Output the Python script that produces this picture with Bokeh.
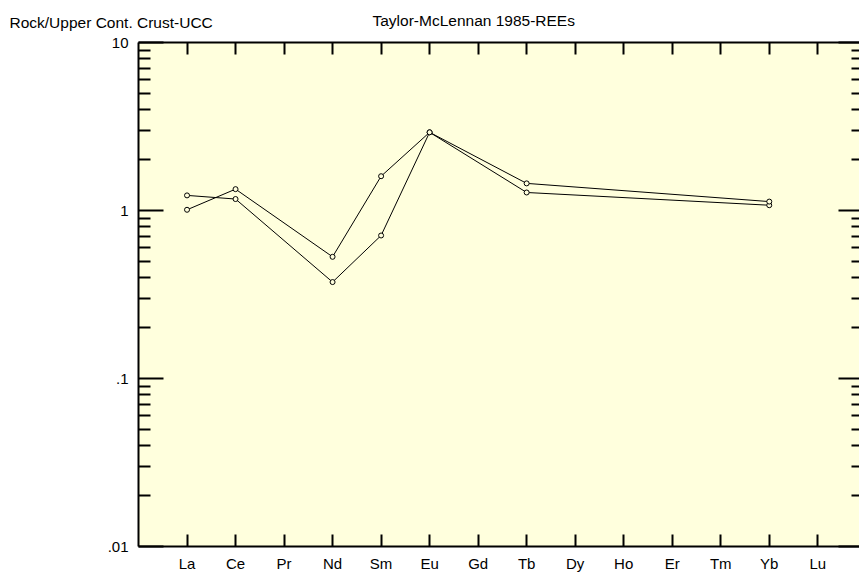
from bokeh.plotting import figure
from bokeh.models import Range1d, FixedTicker, LinearAxis, LogAxis, Label, ColumnDataSource
from bokeh.embed import file_html
from bokeh.resources import INLINE

# ---- data ----
elements = ["La", "Ce", "Pr", "Nd", "Sm", "Eu", "Gd", "Tb", "Dy", "Ho", "Er", "Tm", "Yb", "Lu"]
sample_a = [1.23, 1.17, None, 0.375, 0.71, 2.92, None, 1.28, None, None, None, None, 1.075, None]
sample_b = [1.01, 1.34, None, 0.53, 1.60, 2.92, None, 1.45, None, None, None, None, 1.13, None]
y_ticks = [0.01, 0.1, 1, 10]
y_tick_labels = [".01", ".1", "1", "10"]
y_minor = [m * d for d in (0.01, 0.1, 1) for m in range(2, 10)]
left_title = "Rock/Upper Cont. Crust-UCC"
chart_title = "Taylor-McLennan 1985-REEs"

BG = "#FFFFDD"
FONT = "Liberation Sans"

p = figure(width=859, height=574, x_range=Range1d(0, 14.86), y_range=Range1d(0.01, 10),
           y_axis_type="log", output_backend="svg", toolbar_location=None,
           min_border_left=138, min_border_right=0, min_border_top=42, min_border_bottom=25,
           background_fill_color=BG, border_fill_color="white")
p.grid.visible = False
p.outline_line_color = None

x_ticks = list(range(1, len(elements) + 1))
x_over = {i + 1: el for i, el in enumerate(elements)}
y_over = {t: l for t, l in zip(y_ticks, y_tick_labels)}


def style(ax, tin, mtin):
    ax.axis_line_width = 2
    ax.axis_line_color = "black"
    ax.major_tick_in = tin
    ax.major_tick_out = 0
    ax.minor_tick_in = mtin
    ax.minor_tick_out = 0
    ax.major_tick_line_width = 2
    ax.minor_tick_line_width = 2
    ax.major_label_text_font = FONT
    ax.major_label_text_font_size = "15px"
    ax.major_label_text_color = "black"


# bottom x axis
xb = p.xaxis[0]
xb.ticker = FixedTicker(ticks=x_ticks, minor_ticks=[])
xb.major_label_overrides = x_over
style(xb, 12, 0)
xb.major_label_standoff = 8

# left y axis
yl = p.yaxis[0]
yl.ticker = FixedTicker(ticks=y_ticks, minor_ticks=y_minor)
yl.major_label_overrides = y_over
style(yl, 25, 12)
yl.major_label_standoff = 10

# top axis (no labels)
xt = LinearAxis(ticker=FixedTicker(ticks=x_ticks, minor_ticks=[]))
style(xt, 12, 0)
xt.major_label_overrides = {t: "" for t in x_ticks}
xt.major_label_standoff = 0
p.add_layout(xt, "above")

# right axis (no labels; its edge lies just past the window)
yr = LogAxis(ticker=FixedTicker(ticks=y_ticks, minor_ticks=y_minor))
style(yr, 21, 8)
yr.axis_line_color = None
yr.major_label_overrides = {t: "" for t in y_ticks}
yr.major_label_standoff = 0
p.add_layout(yr, "right")

for vals in (sample_a, sample_b):
    xs = [i + 1 for i, v in enumerate(vals) if v is not None]
    ys = [v for v in vals if v is not None]
    src = ColumnDataSource(dict(x=xs, y=ys))
    p.line("x", "y", source=src, line_color="black", line_width=1)
    p.scatter("x", "y", source=src, marker="circle", size=5, line_color="black",
              fill_color=BG, line_width=1)

# header texts in the panel above the frame (not clipped there)
p.add_layout(Label(x=-129, y=20, x_units="screen", y_units="screen", text=left_title,
                   text_font=FONT, text_font_size="15.5px", text_baseline="alphabetic",
                   text_color="black"), "above")
p.add_layout(Label(x=234, y=5, x_units="screen", y_units="screen", text=chart_title,
                   text_font=FONT, text_font_size="15.5px", text_baseline="alphabetic",
                   text_color="black"), "above")

open("out.html", "w").write(file_html(p, INLINE))
